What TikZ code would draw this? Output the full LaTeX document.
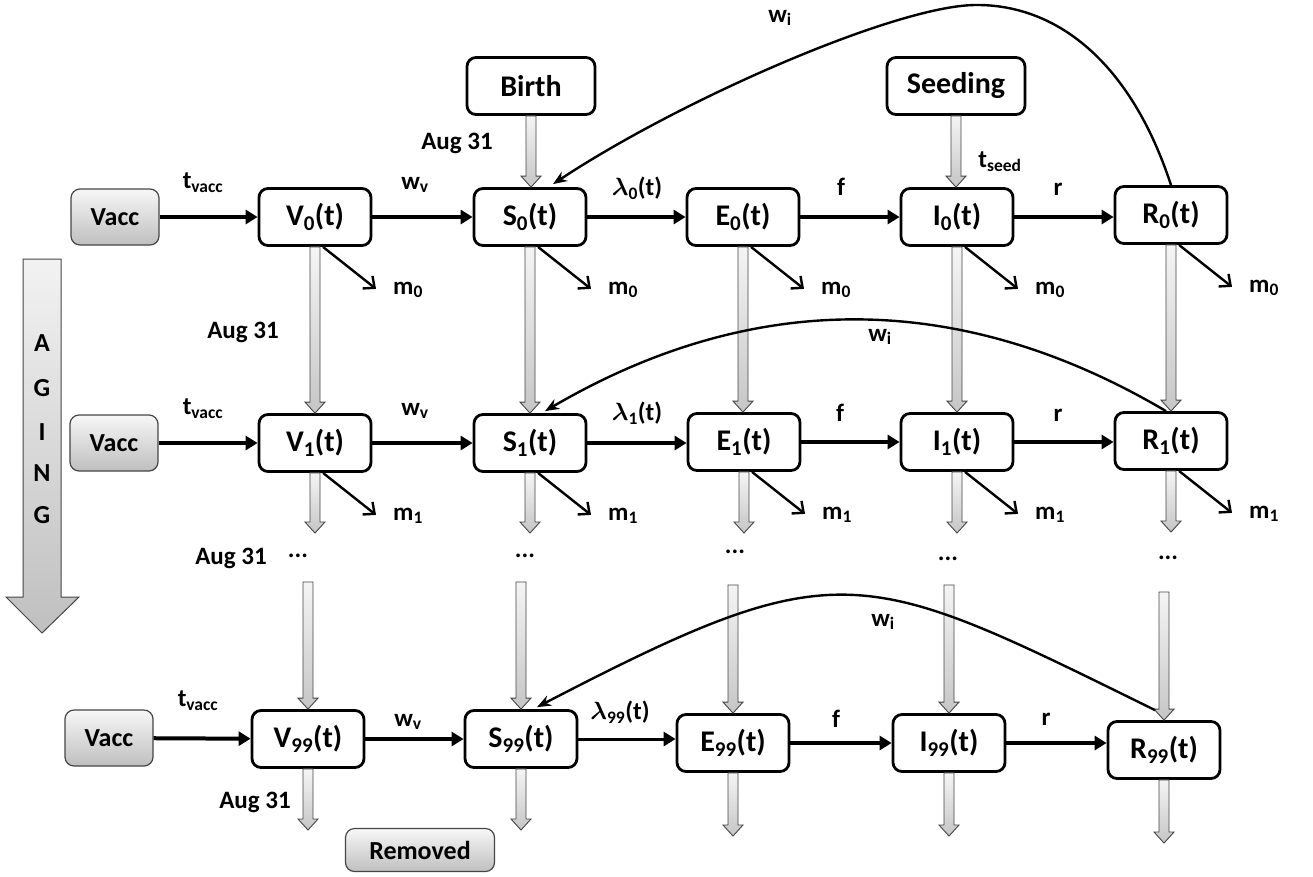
\documentclass[tikz,border=0pt]{standalone}
\usepackage{fontspec}
\setmainfont{Carlito}
\usetikzlibrary{arrows.meta,calc}
\newcommand\sbx[1]{\textsubscript{#1}}
\newcommand\garrow[2]{\path[grayarrow] let \p1=#1, \p2=#2 in
  (\x1-5pt,\y1) -- (\x1+5pt,\y1) -- (\x1+5pt,\y2+11pt) -- (\x1+10pt,\y2+11pt) --
  (\x1,\y2) -- (\x1-10pt,\y2+11pt) -- (\x1-5pt,\y2+11pt) -- cycle;}
\begin{document}
\begin{tikzpicture}[x=1pt,y=-1pt,
  box/.style={draw=black, line width=2.8pt, rounded corners=9pt, fill=white,
    minimum width=112pt, minimum height=57pt, inner sep=0pt,
    font=\fontsize{30}{32}\selectfont\bfseries},
  gbox/.style={draw=gray!55!black, line width=1.2pt, rounded corners=9pt,
    top color=gray!6, bottom color=gray!50, minimum width=88pt, minimum height=56pt,
    inner sep=0pt, font=\fontsize{26}{28}\selectfont\bfseries},
  lab/.style={inner sep=0pt, font=\fontsize{25}{26}\selectfont\bfseries\boldmath},
  aglab/.style={inner sep=0pt, font=\fontsize{26}{27}\selectfont\bfseries},
  flow/.style={line width=4pt, -{Triangle[length=12pt,width=14pt]}},
  mort/.style={line width=2.4pt, -{Straight Barb[length=9pt,width=16pt]}},
  curve/.style={line width=2.4pt, -{Stealth[length=14pt,width=11pt]}},
  grayarrow/.style={draw=gray!55!black, line width=0.9pt, top color=gray!8, bottom color=gray!45},
]
\useasboundingbox (0,0) rectangle (1313,876);
\fill[white] (0,0) rectangle (1313,876);

% ---- AGING arrow
\path[draw=gray!55!black, line width=1pt, top color=gray!10, bottom color=gray!50]
  (23,259) -- (61,259) -- (61,597) -- (79,597) -- (42,633) -- (6,597) -- (23,597) -- cycle;
\node[aglab] (agA) at (42,343) {A};
\node[aglab] (agG) at (42,388) {G};
\node[aglab] (agI) at (42,432) {I};
\node[aglab] (agN) at (42,473) {N};
\node[aglab] (agG2) at (42,515) {G};

% ---- sources
\node[box, minimum width=128pt] (Birth) at (531,86) {Birth};
\node[box, minimum width=138pt] (Seeding) at (956,86) {Seeding};

% ---- row 0
\node[gbox] (Vacc0) at (115,217) {Vacc};
\node[box] (V0) at (315,217) {V\sbx{0}(t)};
\node[box] (S0) at (530,217) {S\sbx{0}(t)};
\node[box] (E0) at (743,217) {E\sbx{0}(t)};
\node[box] (I0) at (957,217) {I\sbx{0}(t)};
\node[box] (R0) at (1171,215) {R\sbx{0}(t)};

% ---- row 1
\node[gbox] (Vacc1) at (114,443) {Vacc};
\node[box] (V1) at (315,443) {V\sbx{1}(t)};
\node[box] (S1) at (530,443) {S\sbx{1}(t)};
\node[box] (E1) at (744,442) {E\sbx{1}(t)};
\node[box] (I1) at (957,442) {I\sbx{1}(t)};
\node[box] (R1) at (1171,441) {R\sbx{1}(t)};

% ---- row 99
\node[gbox] (Vacc2) at (109,738) {Vacc};
\node[box] (V99) at (308,739) {V\sbx{99}(t)};
\node[box] (S99) at (521,739) {S\sbx{99}(t)};
\node[box] (E99) at (733,743) {E\sbx{99}(t)};
\node[box] (I99) at (949,743) {I\sbx{99}(t)};
\node[box] (R99) at (1164,750) {R\sbx{99}(t)};

\node[gbox, minimum width=149pt, minimum height=43pt] (Removed) at (420,850) {Removed};

% ---- horizontal flows
\draw[flow] (Vacc0) -- (V0);
\draw[flow] (V0) -- (S0);
\draw[flow] (S0) -- (E0);
\draw[flow] (E0) -- (I0);
\draw[flow] (I0.east) -- (I0.east -| R0.west);
\draw[flow] (Vacc1) -- (V1);
\draw[flow] (V1) -- (S1);
\draw[flow] (S1.east) -- (S1.east -| E1.west);
\draw[flow] (E1) -- (I1);
\draw[flow] (I1.east) -- (I1.east -| R1.west);
\draw[flow] (Vacc2) -- (V99);
\draw[flow] (V99) -- (S99);
\draw[flow, line width=3pt] (S99.east) -- (S99.east -| E99.west);
\draw[flow] (E99) -- (I99);
\draw[flow] (I99.east) -- (I99.east -| R99.west);

% ---- flow labels
\node[lab] (tv0) at (203,183) {t\sbx{vacc}};
\node[lab] (wv0) at (415,185) {w\sbx{v}};
\node[lab] (la0) at (637,188) {$\lambda$\sbx{0}(t)};
\node[lab] (f0) at (841,187) {f};
\node[lab] (r0) at (1058,189) {r};
\node[lab] (ts) at (1000,162) {t\sbx{seed}};
\node[lab] (aug0) at (457,143) {Aug 31};
\node[lab] (tv1) at (203,409) {t\sbx{vacc}};
\node[lab] (wv1) at (415,411) {w\sbx{v}};
\node[lab] (la1) at (637,413) {$\lambda$\sbx{1}(t)};
\node[lab] (f1) at (840,413) {f};
\node[lab] (r1) at (1058,415) {r};
\node[lab] (aug1) at (243,332) {Aug 31};
\node[lab] (aug2) at (231,558) {Aug 31};
\node[lab] (tv2) at (198,701) {t\sbx{vacc}};
\node[lab] (wv2) at (408,722) {w\sbx{v}};
\node[lab] (la2) at (620,712) {$\lambda$\sbx{99}(t)};
\node[lab] (f2) at (836,719) {f};
\node[lab] (r2) at (1046,719) {r};
\node[lab] (aug3) at (255,802) {Aug 31};

% ---- mortality
\foreach \n/\k in {V0/0,S0/0,E0/0,I0/0,R0/0,V1/1,S1/1,E1/1,I1/1,R1/1}{
  \draw[mort] ($(\n.south)+(8,0)$) -- ++(53,42)
    node[lab, anchor=west, xshift=16pt, yshift=-1pt] (m\n) {m\sbx{\k}};
}

% ---- gray aging / entry arrows
\garrow{(Birth.south)}{(S0.north)}
\garrow{(Seeding.south)}{(I0.north)}
\garrow{(V0.south)}{(V1.north)}
\garrow{(S0.south)}{(S1.north)}
\garrow{(E0.south)}{(E1.north)}
\garrow{(I0.south)}{(I1.north)}
\garrow{(R0.south)}{(R1.north)}

\coordinate (eV1) at (V1.south |- 0,533);
\coordinate (eS1) at (S1.south |- 0,533);
\coordinate (eE1) at (E1.south |- 0,533);
\coordinate (eI1) at (I1.south |- 0,533);
\coordinate (eR1) at (R1.south |- 0,532);
\garrow{(V1.south)}{(eV1)}
\garrow{(S1.south)}{(eS1)}
\garrow{(E1.south)}{(eE1)}
\garrow{(I1.south)}{(eI1)}
\garrow{(R1.south)}{(eR1)}

\node[lab] (dV) at (298,556) {...};
\node[lab] (dS) at (525,556) {...};
\node[lab] (dE) at (735,552) {...};
\node[lab] (dI) at (948,559) {...};
\node[lab] (dR) at (1168,558) {...};

\coordinate (sV) at (V99.north |- 0,582);
\coordinate (sS) at (S99.north |- 0,582);
\coordinate (sE) at (E99.north |- 0,585);
\coordinate (sI) at (I99.north |- 0,585);
\coordinate (sR) at (R99.north |- 0,592);
\garrow{(sV)}{(V99.north)}
\garrow{(sS)}{(S99.north)}
\garrow{(sE)}{(E99.north)}
\garrow{(sI)}{(I99.north)}
\garrow{(sR)}{(R99.north)}

\coordinate (eV3) at (V99.south |- 0,830);
\coordinate (eS3) at (S99.south |- 0,830);
\coordinate (eE3) at (E99.south |- 0,836);
\coordinate (eI3) at (I99.south |- 0,836);
\coordinate (eR3) at (R99.south |- 0,843);
\garrow{(V99.south)}{(eV3)}
\garrow{(S99.south)}{(eS3)}
\garrow{(E99.south)}{(eE3)}
\garrow{(I99.south)}{(eI3)}
\garrow{(R99.south)}{(eR3)}

% ---- waning immunity curves
\draw[curve] (R0.north) .. controls (1130,60) and (1055,4) .. (975,5)
  .. controls (895,6) and (680,100) .. ($(S0.north)+(23,-3)$);
\node[lab] (wi0) at (780,18) {w\sbx{i}};
\draw[curve] ($(R1.north)+(-5,0)$) .. controls (959,289) and (752,290) .. ($(S1.north)+(15,-2)$);
\node[lab] (wi1) at (880,337) {w\sbx{i}};
\draw[curve] ($(R99.north)+(-9,-10)$) .. controls (860,565) and (840,550) .. ($(S99.north)+(16,-2)$);
\node[lab] (wi2) at (883,622) {w\sbx{i}};
\end{tikzpicture}
\end{document}
